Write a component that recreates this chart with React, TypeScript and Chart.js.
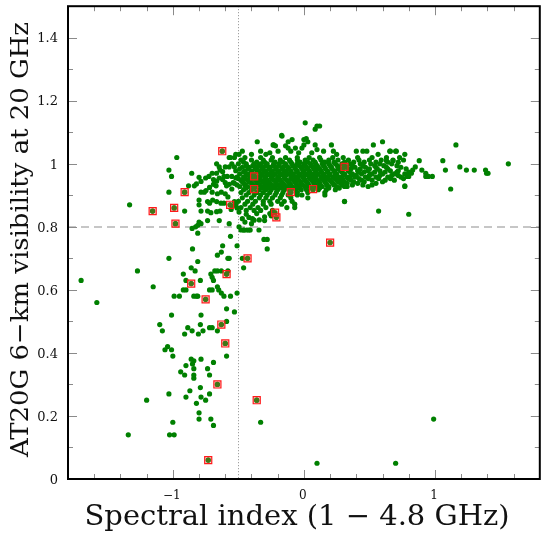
import { useEffect, useRef } from "react";
import { Chart, registerables } from "chart.js";

Chart.register(...registerables);

type Pt = [number, number];

// ---- axis ticks / labels ----
const xMajorTicks = [-1, 0, 1];
const xTickLabels = ["\u22121", "0", "1"];
const xMinorTicks = [-1.6, -1.4, -1.2, -0.8, -0.6, -0.4, -0.2, 0.2, 0.4, 0.6, 0.8, 1.2, 1.4, 1.6];
const yMajorTicks = [0, 0.2, 0.4, 0.6, 0.8, 1, 1.2, 1.4];
const yTickLabels = ["0", "0.2", "0.4", "0.6", "0.8", "1", "1.2", "1.4"];
const yMinorTicks = [0.1, 0.3, 0.5, 0.7, 0.9, 1.1, 1.3];
const xTitle = "Spectral index (1 \u2212 4.8 GHz)";
const yTitle = "AT20G 6\u2212km visibility at 20 GHz";
const visibilityCut = 0.8;
const spectralCut = -0.5;

// ---- data: [spectral index, visibility] ----
const steepTail: Pt[] = [
  [-1.70, 0.63], [-1.58, 0.56], [-1.27, 0.66], [-1.15, 0.61], [-1.34, 0.14], [-1.20, 0.25], [-1.03, 0.27], [-1.00, 0.18], [-1.025, 0.14], [-0.99, 0.14],
  [-0.73, 0.06], [-0.66, 0.30], [-0.60, 0.43], [-0.63, 0.49], [-0.75, 0.57], [-0.86, 0.62], [-0.59, 0.65], [-0.36, 0.25], [-0.33, 0.18],
  [-0.92, 0.60], [-0.90, 0.60], [-0.99, 0.58], [-0.95, 0.58], [-0.84, 0.58], [-0.82, 0.58], [-0.81, 0.58], [-0.79, 0.63], [-0.72, 0.60], [-0.70, 0.60],
  [-0.66, 0.61], [-0.65, 0.60], [-0.63, 0.59], [-0.61, 0.58], [-0.56, 0.58], [-0.51, 0.59], [-0.59, 0.54], [-0.53, 0.53], [-0.59, 0.50], [-0.66, 0.47],
  [-0.70, 0.48], [-0.59, 0.39], [-0.72, 0.48], [-0.785, 0.52], [-0.79, 0.49], [-0.805, 0.46], [-0.77, 0.47], [-0.886, 0.48], [-0.853, 0.47], [-0.91, 0.46],
  [-1.01, 0.52], [-1.10, 0.49], [-1.08, 0.47], [-1.06, 0.41], [-1.04, 0.42], [-1.01, 0.41], [-1.00, 0.39], [-0.94, 0.34], [-0.91, 0.33], [-0.90, 0.36],
  [-0.86, 0.38], [-0.84, 0.375], [-0.85, 0.365], [-0.84, 0.35], [-0.84, 0.33], [-0.84, 0.32], [-0.785, 0.38], [-0.735, 0.35], [-0.69, 0.37], [-0.72, 0.33],
  [-0.87, 0.28], [-0.90, 0.26], [-0.79, 0.29], [-0.785, 0.26], [-0.75, 0.25], [-0.82, 0.24], [-0.72, 0.27], [-0.80, 0.21], [-0.80, 0.19], [-0.71, 0.19], [-0.69, 0.17],
  [-0.71, 0.65], [-0.70, 0.64], [-0.66, 0.66], [-0.81, 0.78], [-0.56, 0.77], [-0.305, 0.76], [-0.28, 0.76], [-0.85, 0.73], [-0.62, 0.74], [-0.51, 0.74],
  [-0.28, 0.73], [-0.63, 0.72], [-0.66, 0.71], [-1.03, 0.70], [-0.81, 0.69], [-0.58, 0.70], [-0.57, 0.70], [-0.47, 0.70], [-0.43, 0.70], [-0.46, 0.67], [-0.86, 0.67],
  [-0.83, 0.66], [-0.92, 0.65], [-0.68, 0.66], [-0.63, 0.66], [-0.58, 0.66], [-0.90, 0.63], [-0.69, 0.63],
  [-0.48, 0.79], [-0.457, 0.79], [-0.42, 0.79], [-0.343, 0.79], [-0.41, 0.79], [-0.495, 0.80], [-0.46, 0.79], [-0.436, 0.79],
  [0.20, 0.75], [0.10, 0.05], [0.70, 0.05], [0.99, 0.19],
];

const steepUpper: Pt[] = [
  [-1.33, 0.87], [-1.155, 0.85], [-0.99, 0.86], [-0.98, 0.81], [-0.97, 1.02], [-1.03, 0.98], [-1.01, 0.96], [-0.856, 0.97], [-1.03, 0.91], [-0.91, 0.91],
  [-0.88, 0.93], [-0.80, 0.957], [-0.785, 0.944], [-0.836, 0.93], [-0.82, 0.936], [-0.785, 0.91], [-0.76, 0.91], [-0.747, 0.915], [-0.72, 0.925], [-0.69, 0.935],
  [-0.67, 0.93], [-0.70, 0.97], [-0.667, 0.97], [-0.64, 0.98], [-0.62, 0.975], [-0.623, 1.04], [-0.646, 0.99], [-0.666, 1.00], [-0.57, 1.02], [-0.53, 1.02],
  [-0.55, 1.00], [-0.60, 0.99], [-0.57, 0.99], [-0.53, 0.99], [-0.61, 0.96], [-0.585, 0.96], [-0.55, 0.96], [-0.52, 0.955], [-0.646, 0.955], [-0.62, 0.95],
  [-0.69, 0.95], [-0.666, 0.945], [-0.60, 0.94], [-0.57, 0.935], [-0.54, 0.94], [-0.59, 0.93], [-0.55, 0.92],
  [-0.80, 0.885], [-0.735, 0.88], [-0.72, 0.875], [-0.696, 0.885], [-0.666, 0.88], [-0.633, 0.875], [-0.61, 0.875], [-0.563, 0.87], [-0.53, 0.88],
  [-0.52, 0.87], [-0.545, 0.865], [-0.555, 0.855], [-0.51, 0.86], [-0.91, 0.85], [-0.785, 0.85], [-0.735, 0.85], [-0.71, 0.845], [-0.666, 0.848],
  [-0.64, 0.85], [-0.80, 0.87], [-0.853, 0.795], [-0.826, 0.80], [-0.81, 0.805], [-0.785, 0.81], [-0.80, 0.815], [-0.735, 0.82], [-0.646, 0.82], [-0.57, 0.81],
  [-0.70, 0.91], [-0.66, 0.905], [-0.63, 0.91], [-0.60, 0.905], [-0.58, 0.895], [-0.75, 0.955], [-0.725, 0.96],
  [-0.495, 0.847], [-0.44, 0.84], [-0.42, 0.83], [-0.47, 0.826], [-0.45, 0.815], [-0.393, 0.826], [-0.38, 0.821], [-0.40, 0.81], [-0.30, 0.82], [-0.25, 0.835],
];

// dense core, one visibility level per row with its spectral indices
const coreRows: [number, number[]][] = [
  [1.02, [-0.45, -0.33, -0.24, -0.14, -0.05, 0.04, 0.12, 0.22, 0.30, 0.41, 0.52, 0.63]],
  [1.012, [-0.48, -0.40, -0.31, -0.25, -0.18, -0.11, -0.05, 0.01, 0.07, 0.13, 0.19, 0.26, 0.34, 0.42, 0.50, 0.59, 0.68, 0.76]],
  [1.005, [-0.46, -0.36, -0.30, -0.22, -0.16, -0.10, -0.03, 0.03, 0.085, 0.16, 0.23, 0.31, 0.38, 0.46, 0.55, 0.64, 0.72]],
  [1.00, [-0.50, -0.44, -0.38, -0.33, -0.28, -0.23, -0.19, -0.14, -0.09, -0.05, 0.0, 0.05, 0.09, 0.14, 0.19, 0.24, 0.29, 0.35, 0.43, 0.51, 0.58, 0.67]],
  [0.994, [-0.44, -0.39, -0.345, -0.29, -0.235, -0.19, -0.135, -0.085, -0.035, 0.01, 0.055, 0.10, 0.15, 0.20, 0.255, 0.31, 0.37, 0.45, 0.54, 0.61, 0.71]],
  [0.989, [-0.47, -0.42, -0.36, -0.31, -0.26, -0.21, -0.16, -0.12, -0.07, -0.02, 0.02, 0.07, 0.11, 0.16, 0.21, 0.27, 0.33, 0.39, 0.47, 0.55, 0.63, 0.74]],
  [0.984, [-0.49, -0.425, -0.37, -0.32, -0.265, -0.215, -0.165, -0.115, -0.065, -0.015, 0.03, 0.075, 0.12, 0.165, 0.215, 0.26, 0.30, 0.36, 0.43, 0.50, 0.56, 0.64, 0.78]],
  [0.978, [-0.52, -0.45, -0.40, -0.34, -0.29, -0.24, -0.19, -0.14, -0.10, -0.05, 0.0, 0.04, 0.09, 0.13, 0.18, 0.23, 0.28, 0.34, 0.41, 0.49, 0.58, 0.66, 0.72]],
  [0.974, [-0.46, -0.40, -0.355, -0.305, -0.25, -0.20, -0.15, -0.10, -0.055, -0.005, 0.045, 0.09, 0.135, 0.18, 0.235, 0.29, 0.35, 0.42, 0.46, 0.54, 0.62, 0.71, 0.80]],
  [0.968, [-0.49, -0.43, -0.38, -0.32, -0.27, -0.22, -0.17, -0.12, -0.08, -0.03, 0.02, 0.06, 0.11, 0.15, 0.20, 0.25, 0.31, 0.37, 0.44, 0.52, 0.60, 0.69, 0.77]],
  [0.963, [-0.44, -0.385, -0.33, -0.285, -0.235, -0.185, -0.14, -0.09, -0.04, 0.005, 0.05, 0.095, 0.145, 0.19, 0.24, 0.30, 0.36, 0.40, 0.50, 0.58, 0.67, 0.72]],
  [0.958, [-0.51, -0.46, -0.41, -0.35, -0.30, -0.25, -0.20, -0.15, -0.10, -0.06, -0.01, 0.04, 0.08, 0.13, 0.17, 0.22, 0.27, 0.33, 0.39, 0.47, 0.55, 0.64, 0.74]],
  [0.953, [-0.50, -0.45, -0.395, -0.345, -0.295, -0.245, -0.20, -0.145, -0.095, -0.05, 0.0, 0.045, 0.09, 0.135, 0.18, 0.235, 0.285, 0.34, 0.42, 0.49, 0.57, 0.66, 0.76]],
  [0.948, [-0.48, -0.43, -0.37, -0.33, -0.28, -0.23, -0.18, -0.13, -0.08, -0.04, 0.01, 0.06, 0.10, 0.15, 0.20, 0.25, 0.30, 0.36, 0.44, 0.52, 0.62, 0.69]],
  [0.943, [-0.47, -0.42, -0.36, -0.315, -0.265, -0.215, -0.17, -0.12, -0.07, -0.025, 0.02, 0.07, 0.115, 0.16, 0.21, 0.26, 0.31, 0.38, 0.46, 0.60]],
  [0.938, [-0.53, -0.46, -0.40, -0.35, -0.30, -0.26, -0.21, -0.16, -0.11, -0.06, -0.02, 0.03, 0.08, 0.12, 0.17, 0.22, 0.28, 0.33, 0.41, 0.55]],
  [0.933, [-0.51, -0.45, -0.39, -0.34, -0.29, -0.245, -0.195, -0.15, -0.10, -0.055, -0.01, 0.035, 0.08, 0.125, 0.175, 0.23, 0.29, 0.37, 0.45, 0.52]],
  [0.928, [-0.49, -0.43, -0.37, -0.32, -0.28, -0.23, -0.18, -0.13, -0.09, -0.04, 0.01, 0.05, 0.10, 0.14, 0.19, 0.25, 0.31, 0.33, 0.49, 0.77]],
  [0.923, [-0.44, -0.38, -0.315, -0.265, -0.22, -0.17, -0.125, -0.08, -0.03, 0.015, 0.06, 0.12, 0.19, 0.27]],
  [0.918, [-0.46, -0.40, -0.34, -0.29, -0.25, -0.20, -0.15, -0.11, -0.06, -0.02, 0.02, 0.07, 0.11, 0.17, 0.24]],
  [0.909, [-0.48, -0.42, -0.36, -0.31, -0.26, -0.21, -0.16, -0.10, -0.05, 0.03, 0.16]],
  [0.901, [-0.44, -0.38, -0.33, -0.28, -0.22, -0.17, -0.12, -0.05, -0.015, 0.16]],
  [0.892, [-0.47, -0.40, -0.34, -0.29, -0.24, -0.18, -0.10, 0.03]],
  [0.881, [-0.50, -0.43, -0.37, -0.31, -0.26, -0.20, -0.15, -0.09, 0.31]],
  [0.872, [-0.45, -0.39, -0.31, -0.25, -0.17, -0.07]],
  [0.861, [-0.48, -0.41, -0.35, -0.29, -0.13, -0.07]],
  [0.852, [-0.44, -0.38, -0.33, -0.24]],
  [0.842, [-0.36, -0.26]],
  [0.832, [-0.30]],
  [0.822, [-0.34]],
];

const upperSpread: Pt[] = [
  [0.01, 1.13], [0.086, 1.11], [0.10, 1.12], [0.12, 1.12], [-0.17, 1.09], [0.018, 1.08], [0.03, 1.07], [0.0, 1.06], [-0.015, 1.05], [-0.23, 1.06],
  [-0.12, 1.07], [-0.12, 1.05], [-0.356, 1.07], [-0.235, 1.06], [-0.197, 1.04], [-0.167, 1.088], [-0.09, 1.077], [0.0, 1.077], [-0.065, 1.05], [-0.14, 1.057],
  [-0.217, 1.057], [-0.47, 1.04], [-0.495, 1.03], [-0.56, 1.02], [-0.52, 1.03], [-0.29, 1.03], [-0.33, 1.04], [0.15, 1.04], [0.225, 1.04], [0.25, 1.03],
  [0.45, 1.04], [0.566, 1.03], [0.655, 1.04], [0.705, 1.04], [0.10, 1.045], [0.06, 1.035], [-0.04, 1.035], [-0.10, 1.04], [-0.26, 1.035], [-0.40, 1.03],
];

const flatWing: Pt[] = [
  [0.80, 0.96], [0.82, 0.97], [0.83, 0.98], [0.88, 1.01], [0.90, 0.98], [0.93, 0.97], [0.93, 0.96], [0.95, 0.96], [0.98, 0.96], [1.06, 1.01],
  [1.08, 0.98], [1.16, 1.06], [1.19, 0.99], [1.24, 0.98], [1.30, 0.98], [1.386, 0.98], [1.394, 0.97], [1.405, 0.97], [1.56, 1.00], [1.12, 0.92],
  [0.80, 0.84], [0.57, 0.85], [0.77, 0.93], [0.31, 0.88], [0.53, 1.06], [0.60, 1.07], [0.21, 1.06], [0.086, 1.06], [0.40, 1.04], [0.48, 1.04],
  [0.66, 1.04], [0.70, 1.04], [0.77, 1.03], [0.73, 1.02], [0.63, 1.01], [0.68, 1.01], [0.85, 0.99], [0.79, 0.96],
];

const flagged: Pt[] = [
  [-0.623, 1.04], [-1.154, 0.85], [-0.99, 0.86], [-0.98, 0.81], [-0.91, 0.91], [-0.563, 0.87], [-0.38, 0.96], [-0.38, 0.92], [-0.10, 0.91], [0.07, 0.92],
  [0.31, 0.99], [-0.22, 0.845], [-0.21, 0.83], [0.20, 0.75], [-0.43, 0.70], [-0.59, 0.65], [-0.86, 0.62], [-0.75, 0.57], [-0.63, 0.49], [-0.60, 0.43],
  [-0.66, 0.30], [-0.36, 0.25], [-0.73, 0.06],
];

const corePoints: Pt[] = coreRows.flatMap(([v, xs]) => xs.map((a) => [a, v] as Pt));
const allSources: Pt[] = [...steepTail, ...steepUpper, ...corePoints, ...upperSpread, ...flatWing, ...flagged];

const FONT = '"DejaVu Serif", "Liberation Serif", serif';

function drawStretched(
  ctx: CanvasRenderingContext2D, text: string, x: number, y: number,
  size: number, width: number, vertical: boolean,
) {
  ctx.save();
  ctx.font = `${size}px ${FONT}`;
  const w = ctx.measureText(text).width;
  ctx.translate(x, y);
  if (vertical) ctx.rotate(-Math.PI / 2);
  ctx.scale(width / w, 1);
  ctx.textAlign = "center";
  ctx.textBaseline = "alphabetic";
  ctx.fillStyle = "#111";
  ctx.fillText(text, 0, 0);
  ctx.restore();
}

const decor = {
  id: "decor",
  beforeDatasetsDraw(chart: any) {
    const { ctx, chartArea: a, scales } = chart;
    ctx.save();
    ctx.strokeStyle = "#b4b4b4";
    ctx.lineWidth = 1.5;
    ctx.setLineDash([8, 5]);
    const yy = Math.round(scales.y.getPixelForValue(visibilityCut));
    ctx.beginPath();
    ctx.moveTo(a.left, yy);
    ctx.lineTo(a.right, yy);
    ctx.stroke();
    ctx.strokeStyle = "#8c8c8c";
    ctx.lineWidth = 1;
    ctx.setLineDash([1, 2]);
    const xx = Math.round(scales.x.getPixelForValue(spectralCut)) + 0.5;
    ctx.beginPath();
    ctx.moveTo(xx, a.top);
    ctx.lineTo(xx, a.bottom);
    ctx.stroke();
    ctx.restore();
  },
  afterDatasetsDraw(chart: any) {
    const { ctx, chartArea: a, scales } = chart;
    const sx = scales.x, sy = scales.y;
    ctx.save();
    ctx.strokeStyle = "#8a8a8a";
    ctx.lineWidth = 1;
    const tickX = (v: number, len: number) => {
      const p = Math.round(sx.getPixelForValue(v)) + 0.5;
      ctx.beginPath();
      ctx.moveTo(p, a.bottom); ctx.lineTo(p, a.bottom - len);
      ctx.moveTo(p, a.top); ctx.lineTo(p, a.top + len);
      ctx.stroke();
    };
    const tickY = (v: number, len: number) => {
      const p = Math.round(sy.getPixelForValue(v)) + 0.5;
      ctx.beginPath();
      ctx.moveTo(a.left, p); ctx.lineTo(a.left + len, p);
      ctx.moveTo(a.right, p); ctx.lineTo(a.right - len, p);
      ctx.stroke();
    };
    xMajorTicks.forEach((v) => tickX(v, 9));
    xMinorTicks.forEach((v) => tickX(v, 5));
    yMajorTicks.forEach((v) => tickY(v, 9));
    yMinorTicks.forEach((v) => tickY(v, 5));
    ctx.strokeStyle = "#000";
    ctx.lineWidth = 2;
    ctx.strokeRect(a.left, a.top, a.right - a.left, a.bottom - a.top);
    ctx.fillStyle = "#111";
    ctx.font = `13px ${FONT}`;
    ctx.textAlign = "right";
    ctx.textBaseline = "alphabetic";
    yMajorTicks.forEach((v, i) => {
      ctx.fillText(yTickLabels[i], 58, sy.getPixelForValue(v) + 4.7);
    });
    ctx.font = `12px ${FONT}`;
    ctx.textAlign = "center";
    xMajorTicks.forEach((v, i) => {
      ctx.fillText(xTickLabels[i], sx.getPixelForValue(v) - 1, 498.5);
    });
    ctx.restore();
    drawStretched(ctx, xTitle, 297, 525, 28, 425, false);
    drawStretched(ctx, yTitle, 28, 239.5, 25, 435, true);
  },
};

export default function App() {
  const ref = useRef<HTMLCanvasElement>(null);
  useEffect(() => {
    const canvas = ref.current;
    if (!canvas) return;
    const chart = new Chart(canvas, {
      type: "scatter",
      data: {
        datasets: [
          {
            label: "flagged",
            data: flagged.map(([x, y]) => ({ x, y })),
            pointStyle: "rect",
            pointRadius: 5,
            backgroundColor: "rgba(255,90,90,0.25)",
            borderColor: "#ff1a1a",
            borderWidth: 1.2,
          },
          {
            label: "sources",
            data: allSources.map(([x, y]) => ({ x, y })),
            pointRadius: 2.6,
            backgroundColor: "#008000",
            borderWidth: 0,
          },
        ],
      },
      options: {
        responsive: false,
        animation: false,
        devicePixelRatio: 1,
        events: [],
        layout: { padding: { left: 68, top: 3, right: 3, bottom: 55 } },
        plugins: { legend: { display: false }, tooltip: { enabled: false } },
        scales: {
          x: { type: "linear", min: -1.8, max: 1.8, display: false },
          y: { type: "linear", min: 0, max: 1.5, display: false },
        },
      },
      plugins: [decor],
    });
    return () => chart.destroy();
  }, []);
  return (
    <div style={{ position: "fixed", left: 0, top: 0, width: 541, height: 534, overflow: "hidden", background: "#fff" }}>
      <canvas ref={ref} width={546} height={534} style={{ display: "block" }} />
    </div>
  );
}
